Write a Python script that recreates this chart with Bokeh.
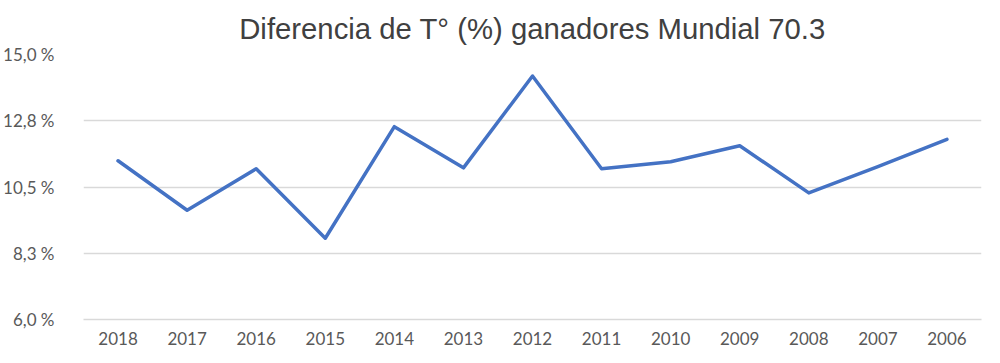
from bokeh.plotting import figure
from bokeh.models import FixedTicker, FactorRange, Range1d
from bokeh.embed import file_html
from bokeh.resources import INLINE

years = ["2018", "2017", "2016", "2015", "2014", "2013", "2012",
         "2011", "2010", "2009", "2008", "2007", "2006"]
diff_pct = [11.39, 9.71, 11.12, 8.76, 12.55, 11.15, 14.27,
            11.12, 11.36, 11.90, 10.30, 11.19, 12.12]
y_ticks = [6.0, 8.25, 10.5, 12.75, 15.0]
y_tick_labels = ["6,0 %", "8,3 %", "10,5 %", "12,8 %", "15,0 %"]
title_text = "Diferencia de T° (%) ganadores Mundial 70.3"

p = figure(width=984, height=347, output_backend="svg", toolbar_location=None,
           x_range=FactorRange(*years, range_padding=0),
           y_range=Range1d(6, 15),
           min_border_left=77, min_border_right=3,
           min_border_top=54, min_border_bottom=27)

p.title.text = title_text
p.title.align = "center"
p.title.vertical_align = "top"
p.title.standoff = 15
p.title.text_font = "Liberation Sans"
p.title.text_font_size = "29.3px"
p.title.text_font_style = "normal"
p.title.text_color = "#404040"

p.line(x=years, y=diff_pct, line_color="#4472C4", line_width=3.5,
       line_join="round", line_cap="round")

p.outline_line_color = None
p.xgrid.grid_line_color = None
p.ygrid.grid_line_color = "#d9d9d9"
p.ygrid.grid_line_width = 1.5

p.yaxis.ticker = FixedTicker(ticks=y_ticks)
p.yaxis.major_label_overrides = {t: l for t, l in zip(y_ticks, y_tick_labels)}
p.yaxis.axis_line_color = None
p.yaxis.major_tick_line_color = None
p.yaxis.minor_tick_line_color = None
p.yaxis.major_label_standoff = 23

p.xaxis.axis_line_color = "#d9d9d9"
p.xaxis.axis_line_width = 1.5
p.xaxis.major_tick_line_color = None
p.xaxis.major_label_standoff = 6

for ax in (p.xaxis, p.yaxis):
    ax.major_label_text_font = "Lato"
    ax.major_label_text_font_size = "17px"
    ax.major_label_text_color = "#595959"

open("out.html", "w").write(file_html(p, INLINE))
